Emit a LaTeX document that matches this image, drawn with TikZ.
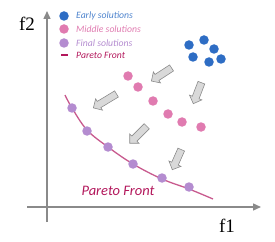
\documentclass[tikz,border=0pt]{standalone}
\usepackage{fontspec}
\setmainfont{Liberation Serif}
\newfontfamily\calibrifont{Carlito}
\usetikzlibrary{shapes.arrows,arrows.meta}
\definecolor{axisgray}{HTML}{8A8A8A}
\definecolor{earlyc}{HTML}{2E6DC4}
\definecolor{middlec}{HTML}{E07BB0}
\definecolor{finalc}{HTML}{B48CD0}
\definecolor{frontc}{HTML}{C85A8E}
\definecolor{frontlab}{HTML}{B3185C}
\definecolor{arrowfill}{HTML}{D9D9D9}
\definecolor{arrowdraw}{HTML}{8C8C8C}
\tikzset{
  dot/.style={circle,inner sep=0pt,minimum size=9.5pt},
  early/.style={dot,fill=earlyc},
  middle/.style={dot,fill=middlec},
  final/.style={dot,fill=finalc},
  blockarrow/.style={single arrow,draw=arrowdraw,fill=arrowfill,line width=0.6pt,
    single arrow head extend=3pt,single arrow head indent=0pt,
    inner xsep=0pt,inner ysep=3.3pt,minimum height=#1},
  axis/.style={draw=axisgray,line width=1.4pt,-{Triangle[width=7pt,length=8pt]}},
  legtext/.style={font=\calibrifont\itshape\fontsize{9.7}{11}\selectfont,anchor=west,inner sep=0pt},
  axislabel/.style={font=\fontsize{19}{21}\selectfont,inner sep=0pt}
}
\begin{document}
\begin{tikzpicture}[x=1pt,y=1pt]
\useasboundingbox (0,0) rectangle (275,241);
% axes
\coordinate (ybot) at (47,19);
\coordinate (ytop) at (47,230);
\coordinate (xleft) at (27,34);
\coordinate (xright) at (261,34);
\draw[axis] (ybot) -- (ytop);
\draw[axis] (xleft) -- (xright);
\node[axislabel] (f2) at (27,217) {f2};
\node[axislabel] (f1) at (227,15) {f1};
% legend
\node[early] (le) at (64,225) {};
\node[middle] (lm) at (64,212) {};
\node[final] (lf) at (64,198) {};
\coordinate (lpa) at (61,186);
\coordinate (lpb) at (68,186);
\draw[frontlab,line width=1.6pt] (lpa) -- (lpb);
\node[legtext,text=earlyc!85!white] (te) at (76,225) {Early solutions};
\node[legtext,text=middlec] (tm) at (76,212) {Middle solutions};
\node[legtext,text=finalc] (tf) at (76,198) {Final solutions};
\node[legtext,text=frontlab] (tp) at (76,186) {Pareto Front};
% pareto front
\draw[frontc,line width=1.3pt] plot[smooth,tension=0.6] coordinates
  {(65,146) (72,133) (87,111) (108,94) (133,77) (162,62) (189,52) (213,42)};
\node[font=\calibrifont\itshape\fontsize{14.5}{16}\selectfont,text=frontlab,inner sep=0pt] (plab) at (118,50) {Pareto Front};
% early
\node[early] (e1) at (189,196) {};
\node[early] (e2) at (204,201) {};
\node[early] (e3) at (214,192) {};
\node[early] (e4) at (193,184) {};
\node[early] (e5) at (209,179) {};
\node[early] (e6) at (221,182) {};
% middle
\node[middle] (m1) at (128,165) {};
\node[middle] (m2) at (138,154) {};
\node[middle] (m3) at (153,140) {};
\node[middle] (m4) at (168,127) {};
\node[middle] (m5) at (182,119) {};
\node[middle] (m6) at (201,114) {};
% final
\node[final] (s1) at (72,133) {};
\node[final] (s2) at (87,110) {};
\node[final] (s3) at (108,94) {};
\node[final] (s4) at (133,77) {};
\node[final] (s5) at (162,63) {};
\node[final] (s6) at (189,54) {};
% arrows
\node[blockarrow=24pt,rotate=213] (a1) at (163,167.5) {};
\node[blockarrow=22.5pt,rotate=249] (a2) at (198,149.5) {};
\node[blockarrow=27pt,rotate=211] (a3) at (106.5,141) {};
\node[blockarrow=24pt,rotate=225] (a4) at (139.5,107.5) {};
\node[blockarrow=22pt,rotate=246] (a5) at (177.5,83) {};
\end{tikzpicture}
\end{document}
